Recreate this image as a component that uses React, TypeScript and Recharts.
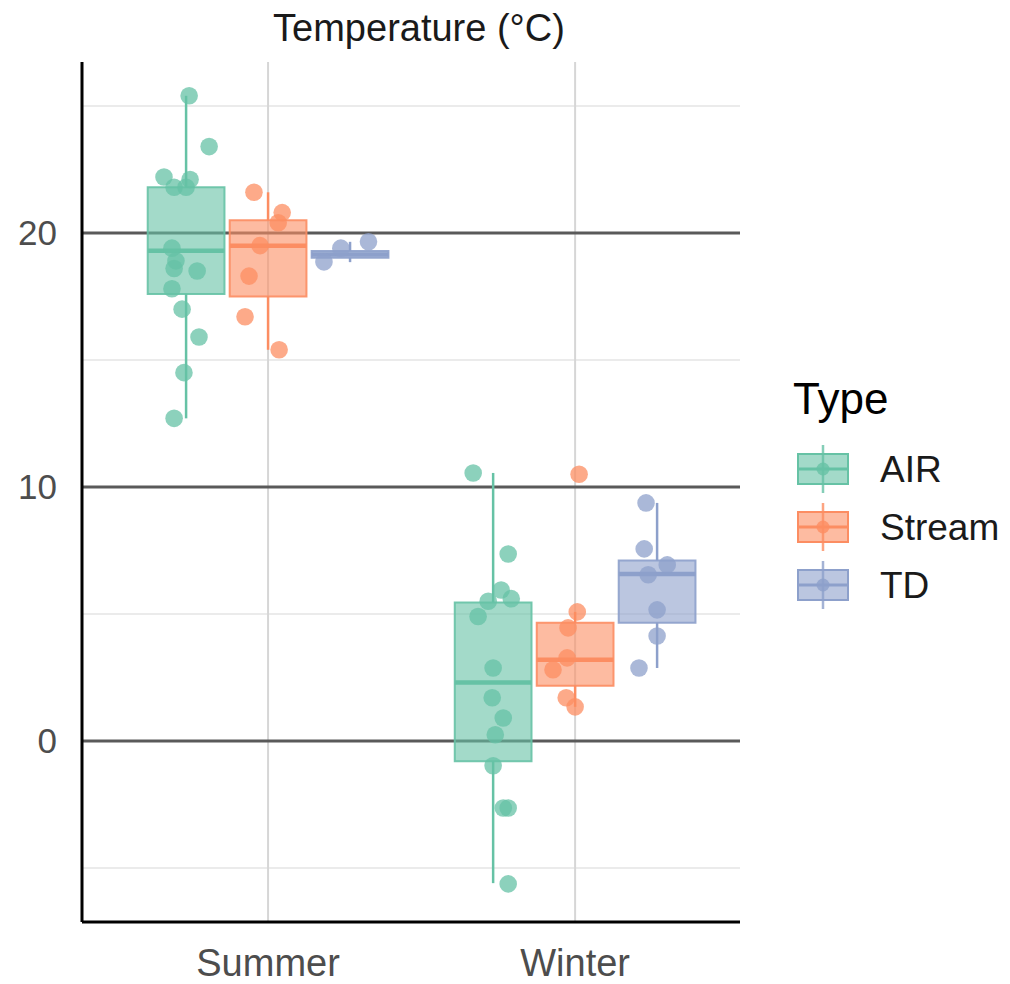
import React from 'react';
import {
	ComposedChart,
	Scatter,
	XAxis,
	YAxis,
	CartesianGrid,
	ReferenceArea,
	ReferenceLine,
	Legend,
} from 'recharts';

const seasons = ['Summer', 'Winter'];
const types = ['AIR', 'Stream', 'TD'];
const colors = ['#66c2a5', '#fc8d62', '#8da0cb'];

const majorY = [0, 10, 20];
const minorY = [-5, 5, 15, 25];

// box stats per season: [lower whisker, q1, median, q3, upper whisker]
const airStats = [
	[12.7, 17.6, 19.3, 21.8, 25.4],
	[-5.6, -0.8, 2.3, 5.45, 10.55],
];
const streamStats = [
	[15.4, 17.5, 19.5, 20.5, 21.6],
	[1.34, 2.17, 3.2, 4.65, 5.08],
];
const tdStats = [
	[18.85, 19.02, 19.15, 19.29, 19.65],
	[2.87, 4.65, 6.57, 7.1, 9.37],
];

// jittered observations: [value, horizontal jitter]
const airSummer = [
	[25.4, 0.01], [23.4, 0.075], [22.2, -0.072], [22.1, 0.013], [21.8, -0.039],
	[21.8, 0], [19.4, -0.046], [18.9, -0.033], [18.6, -0.039], [18.5, 0.036],
	[17.8, -0.046], [17.0, -0.013], [15.9, 0.042], [14.5, -0.007], [12.7, -0.039],
];
const airWinter = [
	[10.55, -0.065], [7.36, 0.049], [5.94, 0.026], [5.5, -0.016], [5.6, 0.059],
	[4.9, -0.049], [2.87, 0], [1.7, -0.003], [0.9, 0.033], [0.24, 0.007],
	[-0.98, 0], [-2.64, 0.049], [-2.64, 0.033], [-5.63, 0.049],
];
const streamSummer = [
	[21.6, -0.046], [20.8, 0.046], [20.4, 0.033], [19.5, -0.026],
	[18.3, -0.062], [16.7, -0.075], [15.4, 0.036],
];
const streamWinter = [
	[10.5, 0.013], [5.08, 0.007], [4.45, -0.023], [3.27, -0.026],
	[2.8, -0.072], [1.7, -0.029], [1.34, 0],
];
const tdSummer = [[18.86, -0.085], [19.4, -0.03], [19.65, 0.06]];
const tdWinter = [
	[9.37, -0.036], [7.56, -0.042], [6.93, 0.033], [6.54, -0.029],
	[5.16, 0], [4.13, 0], [2.87, -0.059],
];

const stats = [airStats, streamStats, tdStats];
const points = [
	[airSummer, airWinter],
	[streamSummer, streamWinter],
	[tdSummer, tdWinter],
];

const dodge = [-0.267, 0, 0.267];
const halfBox = 0.125;
const font = '"Liberation Sans", Arial, sans-serif';

const scatterData = types.map((t, ti) =>
	points[ti].flatMap((group, si) =>
		group.map(([v, j]) => ({ x: si + 1 + dodge[ti] + j, y: v }))
	)
);

const Dot = (color) => (props) => (
	<circle cx={props.cx} cy={props.cy} r={8.8} fill={color} fillOpacity={0.75} />
);

const LegendBox = ({ payload }) => {
	const items = types.map((t, i) => ({ value: t, color: colors[i] }));
	return (
		<svg width={270} height={260} style={{ fontFamily: font }}>
			<text x={53} y={54} fontSize={44} fill='#000'>
				Type
			</text>
			{items.map((it, i) => {
				const cy = 109 + i * 58;
				return (
					<g key={it.value}>
						<line x1={83} x2={83} y1={cy - 24} y2={cy + 24} stroke={it.color} strokeWidth={2.5} strokeOpacity={0.8} />
						<rect x={58} y={cy - 15} width={50} height={30} fill={it.color} fillOpacity={0.6} stroke={it.color} strokeWidth={2} />
						<line x1={58} x2={108} y1={cy} y2={cy} stroke={it.color} strokeWidth={3} />
						<circle cx={83} cy={cy} r={6.5} fill={it.color} fillOpacity={0.8} />
						<text x={140} y={cy + 13} fontSize={37} fill='#1a1a1a'>
							{it.value}
						</text>
					</g>
				);
			})}
		</svg>
	);
};

const App = () => {
	return (
		<div style={{ position: 'absolute', left: 0, top: 0, width: 1010, height: 984, background: '#fff' }}>
			<div
				style={{
					position: 'absolute',
					left: 0,
					top: 9,
					width: 838,
					textAlign: 'center',
					fontFamily: font,
					fontSize: 38,
					lineHeight: '38px',
					color: '#1a1a1a',
				}}
			>
				Temperature (°C)
			</div>
			<ComposedChart width={1010} height={984} margin={{ top: 62, right: 0, bottom: 0, left: 0 }}>
				<CartesianGrid vertical={false} horizontalValues={minorY} syncWithTicks stroke='#ebebeb' strokeWidth={2} />
				<CartesianGrid horizontal={false} verticalValues={[1, 2]} syncWithTicks stroke='#d6d6d6' strokeWidth={2} />
				<CartesianGrid vertical={false} horizontalValues={majorY} syncWithTicks stroke='#5a5a5a' strokeWidth={3} />
				<XAxis
					type='number'
					dataKey='x'
					domain={[0.394, 2.537]}
					ticks={[1, 2]}
					interval={0}
					allowDataOverflow
					tickFormatter={(v) => seasons[v - 1]}
					height={62}
					tickLine={false}
					tickSize={0}
					tickMargin={27}
					axisLine={{ stroke: '#000', strokeWidth: 3 }}
					tick={{ fill: '#4d4d4d', fontSize: 38, fontFamily: font }}
				/>
				<YAxis
					type='number'
					domain={[-7.13, 26.73]}
					ticks={majorY}
					allowDataOverflow
					width={82}
					tickLine={false}
					tickSize={0}
					tickMargin={25}
					axisLine={{ stroke: '#000', strokeWidth: 3 }}
					tick={{ fill: '#4d4d4d', fontSize: 35, fontFamily: font }}
				/>
				{types.map((t, ti) =>
					seasons.map((s, si) => {
						const [lo, q1, med, q3, hi] = stats[ti][si];
						const c = si + 1 + dodge[ti];
						return (
							<ReferenceArea
								key={`box-${t}-${s}`}
								x1={c - halfBox}
								x2={c + halfBox}
								y1={q1}
								y2={q3}
								fill={colors[ti]}
								fillOpacity={0.6}
								stroke={colors[ti]}
								strokeOpacity={0.9}
								strokeWidth={2}
							/>
						);
					})
				)}
				{types.map((t, ti) =>
					seasons.map((s, si) => {
						const [lo, q1, med, q3, hi] = stats[ti][si];
						const c = si + 1 + dodge[ti];
						return [
							<ReferenceLine
								key={`wl-${t}-${s}`}
								segment={[{ x: c, y: lo }, { x: c, y: q1 }]}
								stroke={colors[ti]}
								strokeWidth={2.5}
							/>,
							<ReferenceLine
								key={`wh-${t}-${s}`}
								segment={[{ x: c, y: q3 }, { x: c, y: hi }]}
								stroke={colors[ti]}
								strokeWidth={2.5}
							/>,
							<ReferenceLine
								key={`med-${t}-${s}`}
								segment={[{ x: c - halfBox, y: med }, { x: c + halfBox, y: med }]}
								stroke={colors[ti]}
								strokeWidth={4.5}
							/>,
						];
					})
				)}
				{types.map((t, ti) => (
					<Scatter
						key={t}
						name={t}
						data={scatterData[ti]}
						dataKey='y'
						fill={colors[ti]}
						shape={Dot(colors[ti])}
						isAnimationActive={false}
					/>
				))}
				<Legend
					layout='vertical'
					align='right'
					verticalAlign='middle'
					wrapperStyle={{ left: 740, top: 360, width: 270, height: 260 }}
					content={(props) => <LegendBox payload={props.payload} />}
				/>
			</ComposedChart>
		</div>
	);
};

export default App;
